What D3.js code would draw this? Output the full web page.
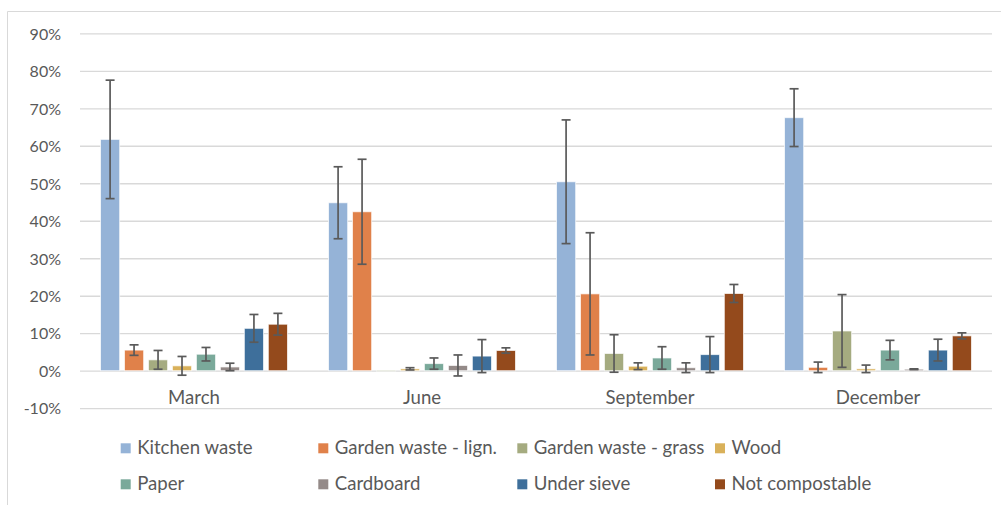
<!DOCTYPE html>
<html>
<head>
<meta charset="utf-8">
<script src="https://cdn.jsdelivr.net/npm/d3@7"></script>
<style>
  html, body { margin: 0; padding: 0; background: #fff; }
  svg { display: block; font-family: Lato, "Open Sans", sans-serif; }
</style>
</head>
<body>
<svg id="chart" width="1001" height="505"></svg>
<script>
// Sampling months (x categories)
const months = ["March", "June", "September", "December"];

// Waste fractions (series)
const fractions = ["Kitchen waste", "Garden waste - lign.", "Garden waste - grass", "Wood",
                   "Paper", "Cardboard", "Under sieve", "Not compostable"];

// Mean share per fraction (%), one array per month, in fraction order
const marchMean     = [61.7, 5.5, 2.9, 1.3, 4.4, 1.0, 11.3, 12.4];
const juneMean      = [44.8, 42.4, 0.1, 0.5, 1.9, 1.4, 3.9, 5.4];
const septemberMean = [50.4, 20.5, 4.6, 1.2, 3.4, 0.8, 4.3, 20.6];
const decemberMean  = [67.5, 0.9, 10.6, 0.5, 5.5, 0.4, 5.5, 9.3];

// Standard deviation per fraction (%)
const marchSd     = [15.8, 1.4, 2.5, 2.5, 1.8, 1.0, 3.7, 2.9];
const juneSd      = [9.6, 14.0, 0.0, 0.3, 1.5, 2.8, 4.4, 0.7];
const septemberSd = [16.5, 16.3, 5.0, 0.9, 3.0, 1.3, 4.8, 2.4];
const decemberSd  = [7.7, 1.4, 9.7, 1.0, 2.6, 0.1, 2.9, 0.8];

// Y axis tick values (%)
const yTicks = [-10, 0, 10, 20, 30, 40, 50, 60, 70, 80, 90];

const colors = ["#95B3D7", "#E0814A", "#A5AB80", "#D9B15A",
                "#7AA99A", "#948A88", "#3E6F9B", "#944A1C"];

const means = [marchMean, juneMean, septemberMean, decemberMean];
const sds = [marchSd, juneSd, septemberSd, decemberSd];

const rows = months.map((m, i) => ({
  month: m,
  items: fractions.map((f, j) => ({ fraction: f, mean: means[i][j], sd: sds[i][j], color: colors[j] }))
}));

const svg = d3.select("#chart");
const textColor = "#595959";
const gridColor = "#D9D9D9";

// Chart area frame
svg.append("path")
  .attr("d", "M7.5,505 V11.5 H1001")
  .attr("fill", "none")
  .attr("stroke", gridColor)
  .attr("stroke-width", 1);

const plotLeft = 80, plotRight = 992;

const y = d3.scaleLinear().domain([-10, 90]).range([408.2, 33.3]);
const x0 = d3.scaleBand().domain(months).range([plotLeft, plotRight]).padding(0);
const x1 = d3.scaleBand().domain(fractions).range([20.5, x0.bandwidth() - 20.5]).paddingInner(0.2).paddingOuter(0);

// Y axis with gridlines
const yAxis = svg.append("g")
  .attr("transform", `translate(${plotLeft},0)`)
  .call(d3.axisLeft(y).tickValues(yTicks).tickSize(-(plotRight - plotLeft)).tickPadding(19).tickFormat(d => d + "%"));
yAxis.select(".domain").remove();
yAxis.selectAll(".tick line").attr("stroke", gridColor).attr("stroke-width", 1.3);
yAxis.selectAll(".tick text")
  .attr("fill", textColor)
  .attr("font-size", 16)
  .attr("font-family", "Lato, 'Open Sans', sans-serif")
  .attr("dy", "0.36em");

// Bars
const groups = svg.append("g").selectAll("g")
  .data(rows)
  .join("g")
  .attr("transform", d => `translate(${x0(d.month)},0)`);

groups.selectAll("rect")
  .data(d => d.items)
  .join("rect")
  .attr("x", d => x1(d.fraction))
  .attr("width", x1.bandwidth())
  .attr("y", d => y(Math.max(0, d.mean)))
  .attr("height", d => Math.max(0.8, Math.abs(y(d.mean) - y(0))))
  .attr("fill", d => d.color)
  .attr("stroke", "rgba(255,255,255,0.7)")
  .attr("stroke-width", 1);

// Error bars
const capHalf = 4.5;
const err = groups.selectAll("g.err")
  .data(d => d.items.filter(it => it.sd > 0.05))
  .join("g")
  .attr("class", "err")
  .attr("stroke", "#5A5A5A")
  .attr("stroke-width", 1.7)
  .attr("fill", "none");

err.append("line")
  .attr("x1", d => x1(d.fraction) + x1.bandwidth() / 2)
  .attr("x2", d => x1(d.fraction) + x1.bandwidth() / 2)
  .attr("y1", d => y(d.mean + d.sd))
  .attr("y2", d => y(d.mean - d.sd));
err.append("line")
  .attr("x1", d => x1(d.fraction) + x1.bandwidth() / 2 - capHalf)
  .attr("x2", d => x1(d.fraction) + x1.bandwidth() / 2 + capHalf)
  .attr("y1", d => y(d.mean + d.sd))
  .attr("y2", d => y(d.mean + d.sd));
err.append("line")
  .attr("x1", d => x1(d.fraction) + x1.bandwidth() / 2 - capHalf)
  .attr("x2", d => x1(d.fraction) + x1.bandwidth() / 2 + capHalf)
  .attr("y1", d => y(d.mean - d.sd))
  .attr("y2", d => y(d.mean - d.sd));

// Category axis labels
const xAxis = svg.append("g")
  .attr("transform", `translate(0,${y(0)})`)
  .call(d3.axisBottom(x0).tickSize(0));
xAxis.select(".domain").remove();
xAxis.selectAll(".tick text")
  .attr("fill", textColor)
  .attr("font-size", 18.6)
  .attr("font-family", "Lato, 'Open Sans', sans-serif")
  .attr("dy", null)
  .attr("y", 32.8);

// Legend: four columns, two rows
const legendCols = [120.7, 318.3, 517.3, 715];
const legendRows = [443.3, 479.3];
const legend = svg.append("g").selectAll("g")
  .data(fractions)
  .join("g")
  .attr("transform", (d, i) => `translate(${legendCols[i % 4]},${legendRows[Math.floor(i / 4)]})`);
legend.append("rect")
  .attr("width", 10).attr("height", 10)
  .attr("fill", (d, i) => colors[i]);
legend.append("text")
  .attr("x", 16.5)
  .attr("y", 11)
  .attr("fill", textColor)
  .attr("font-size", 18.6)
  .text(d => d);
</script>
</body>
</html>
